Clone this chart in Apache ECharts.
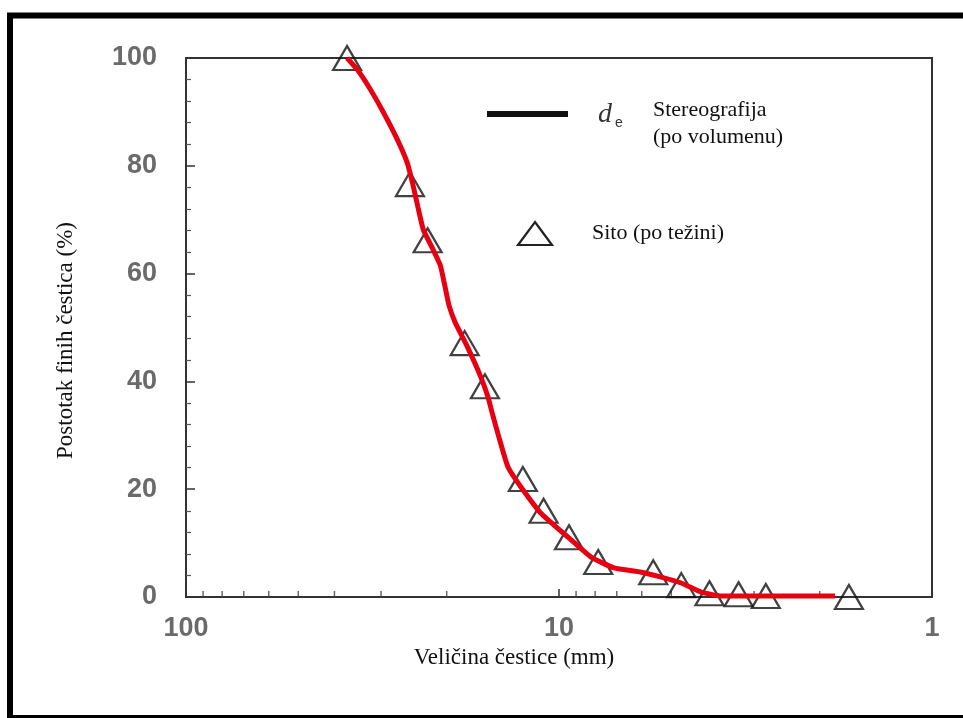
<!DOCTYPE html>
<html>
<head>
<meta charset="utf-8">
<script src="https://cdn.jsdelivr.net/npm/echarts@6/dist/echarts.min.js"></script>
<style>
html,body{margin:0;padding:0;background:#fff;}
#chart{width:963px;height:718px;}
</style>
</head>
<body>
<div id="chart"></div>
<script>
// Stereography curve (d_e, by volume): particle size (mm) vs percent finer
const lineSize = [37.0, 34.7, 32.0, 29.5, 27.1, 25.5, 24.7, 23.9, 23.1, 21.8, 20.8, 20.2, 19.7, 19.0, 17.6, 16.2, 15.5, 15.1, 14.5, 13.7, 12.65, 11.2, 9.46, 8.2, 7.12, 6.02, 5.32, 4.7, 4.15, 3.67, 1.82];
const linePct  = [100, 97.8, 94.1, 89.8, 84.8, 80.5, 76.8, 72.4, 68.1, 64.6, 61.5, 57.5, 54.0, 51.0, 46.4, 40.8, 37.1, 34.1, 29.7, 24.1, 20.4, 15.6, 11.1, 7.4, 5.4, 4.6, 3.7, 2.6, 0.9, 0.2, 0.2];

// Sieve (by weight)
const sieveSize = [37.0, 25.1, 22.5, 17.9, 15.8, 12.5, 11.0, 9.4, 7.85, 5.59, 4.70, 3.95, 3.30, 2.79, 1.67];
const sievePct  = [100, 76.6, 66.2, 47.1, 39.1, 21.9, 16.0, 11.1, 6.5, 4.6, 2.2, 0.7, 0.5, 0.2, 0];

// log-axis minor tick positions
const xMinorTicks = [90, 80, 70, 60, 50, 40, 30, 20, 9, 8, 7, 6, 5, 4, 3, 2];

const xName = 'Veličina čestice (mm)';
const yName = 'Postotak finih čestica (%)';
const legendLine = ['Stereografija', '(po volumenu)'];
const legendSieve = 'Sito (po težini)';

const lineData = lineSize.map((s, i) => [s, linePct[i]]);
const sieveData = sieveSize.map((s, i) => [s, sievePct[i]]);
const tickData = xMinorTicks.map(v => [v, 0]);

const chart = echarts.init(document.getElementById('chart'));
const labelStyle = {fontFamily: 'Liberation Sans, Arial, sans-serif', fontSize: 27, fontWeight: 'bold', color: '#6a6a6a'};
const serif = 'Liberation Serif, Times New Roman, serif';

chart.setOption({
  animation: false,
  backgroundColor: '#fff',
  grid: {left: 186, right: 31, top: 58, bottom: 121, show: true, borderColor: '#333', borderWidth: 2},
  xAxis: {
    type: 'log', logBase: 10, min: 1, max: 100, inverse: true,
    name: xName, nameLocation: 'middle', nameGap: 34,
    nameTextStyle: {fontFamily: serif, fontSize: 23, color: '#111', padding: [0, 90, 0, 0]},
    axisLine: {show: true, lineStyle: {color: '#333', width: 2}},
    axisTick: {show: true, inside: true, length: 8, lineStyle: {color: '#333', width: 1.5}},
    axisLabel: Object.assign({margin: 18, formatter: v => String(Math.round(v))}, labelStyle),
    splitLine: {show: false}
  },
  yAxis: {
    type: 'value', min: 0, max: 100, interval: 20,
    name: yName, nameLocation: 'middle', nameGap: 109, nameRotate: 90,
    nameTextStyle: {fontFamily: serif, fontSize: 23, color: '#111', padding: [0, 26, 0, 0]},
    axisLine: {show: true, lineStyle: {color: '#333', width: 2}},
    axisTick: {show: true, inside: true, length: 9, lineStyle: {color: '#333', width: 1.5}},
    minorTick: {show: true, splitNumber: 5, length: 5, lineStyle: {color: '#555', width: 1.2}},
    axisLabel: Object.assign({margin: 29}, labelStyle),
    splitLine: {show: false}
  },
  series: [
    {
      type: 'scatter', name: 'ticks', data: tickData, silent: true,
      symbol: 'rect', symbolSize: [1.5, 6], symbolOffset: [0, -3],
      itemStyle: {color: '#444'}, z: 1
    },
    {
      type: 'scatter', name: legendSieve, data: sieveData,
      symbol: 'triangle', symbolSize: [28, 24],
      itemStyle: {color: 'rgba(255,255,255,0)', borderColor: '#111', borderWidth: 2.2},
      z: 2
    },
    {
      type: 'line', name: 'Stereografija', data: lineData,
      smooth: 0.15, showSymbol: false, symbol: 'none',
      lineStyle: {color: '#e60012', width: 5},
      z: 3
    }
  ],
  graphic: [
    {type: 'rect', shape: {x: 10, y: 15.5, width: 1000, height: 702.5}, style: {fill: 'none', stroke: '#000', lineWidth: 6}, z: 10, silent: true},
    {type: 'line', shape: {x1: 487, y1: 114, x2: 568, y2: 114}, style: {stroke: '#111', lineWidth: 6}, z: 10},
    {type: 'text', x: 598, y: 101, style: {text: 'd', font: 'italic 28px Liberation Serif, serif', fill: '#333'}, z: 10},
    {type: 'text', x: 615, y: 116, style: {text: 'e', font: '14px Liberation Sans, sans-serif', fill: '#333'}, z: 10},
    {type: 'text', x: 653, y: 97, style: {text: legendLine.join('\n'), font: '22px Liberation Serif, serif', lineHeight: 27, fill: '#111'}, z: 10},
    {type: 'polygon', shape: {points: [[535, 222], [552, 245], [518, 245]]}, style: {fill: 'none', stroke: '#222', lineWidth: 2.2}, z: 10},
    {type: 'text', x: 592, y: 222, style: {text: legendSieve, font: '22px Liberation Serif, serif', fill: '#111'}, z: 10}
  ]
});
</script>
</body>
</html>
